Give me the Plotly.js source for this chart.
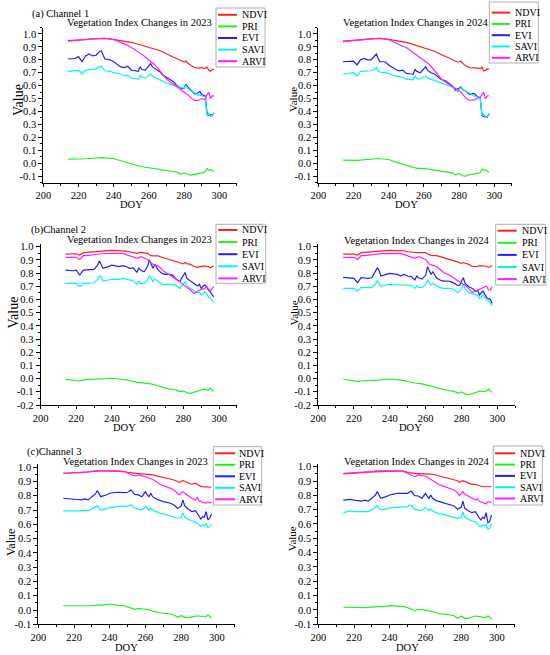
<!DOCTYPE html>
<html><head><meta charset="utf-8">
<script src="https://cdn.plot.ly/plotly-3.0.1.min.js"></script>
<style>html,body{margin:0;padding:0;background:#fff}#chart{width:550px;height:655px}</style>
</head><body><div id="chart"></div>
<script>
// ---------------- DATA ----------------
const DOY = [214,218,220,222,224,226,228,230,232,233,234,235,238,240,244,246,248,250,252,254,255,256,258,260,261,262,263,264,266,268,270,272,274,276,278,279,280,281,282,284,286,288,289,290,291,292,293,294,295,296,297];
const SERIES_NAMES = ['NDVI','PRI','EVI','SAVI','ARVI'];
const SERIES_COLORS = ['#ff2020','#20f020','#2020ff','#00f4f4','#ff20ff'];
const X_TICKS = [200,220,240,260,280,300];
const Y_TICKS_CH1 = [-0.1,0.0,0.1,0.2,0.3,0.4,0.5,0.6,0.7,0.8,0.9,1.0];
const Y_TICKS_CH2 = [-0.2,-0.1,0.0,0.1,0.2,0.3,0.4,0.5,0.6,0.7,0.8,0.9,1.0];
const Y_TICKS_CH3 = [-0.1,0.0,0.1,0.2,0.3,0.4,0.5,0.6,0.7,0.8,0.9,1.0];

// Channel 1, 2023
const CH1_2023_NDVI = [.948,.950,.952,.955,.957,.960,.962,.963,.965,.965,.966,.965,.962,.958,.950,.946,.942,.935,.928,.920,.917,.914,.907,.900,.896,.892,.888,.883,.872,.860,.845,.833,.820,.808,.795,.785,.782,.790,.775,.755,.740,.735,.738,.740,.735,.732,.745,.720,.712,.725,.725];
const CH1_2023_PRI = [.031,.030,.030,.032,.034,.036,.038,.040,.043,.045,.043,.041,.038,.036,.018,.010,.003,-.005,-.015,-.022,-.025,-.028,-.032,-.036,-.035,-.038,-.040,-.040,-.048,-.054,-.057,-.060,-.065,-.072,-.085,-.080,-.075,-.080,-.088,-.093,-.085,-.080,-.078,-.075,-.072,-.067,-.041,-.054,-.050,-.060,-.067];
const CH1_2023_EVI = [.806,.810,.825,.785,.830,.845,.830,.835,.865,.870,.835,.806,.800,.785,.745,.740,.750,.720,.715,.710,.745,.725,.720,.750,.770,.745,.735,.725,.710,.680,.665,.650,.630,.600,.580,.575,.580,.610,.590,.565,.535,.545,.555,.530,.525,.520,.390,.370,.375,.370,.390];
const CH1_2023_SAVI = [.708,.715,.720,.690,.720,.722,.725,.730,.745,.750,.730,.715,.710,.700,.690,.675,.680,.660,.655,.650,.680,.665,.660,.680,.690,.675,.668,.660,.650,.635,.620,.612,.605,.598,.590,.585,.580,.600,.580,.560,.540,.525,.527,.520,.517,.515,.365,.385,.360,.370,.390];
const CH1_2023_ARVI = [.945,.948,.950,.952,.955,.958,.962,.965,.968,.970,.970,.968,.960,.955,.935,.925,.912,.895,.878,.860,.850,.842,.820,.800,.790,.778,.765,.752,.720,.680,.650,.630,.610,.590,.570,.560,.555,.545,.530,.505,.485,.485,.490,.500,.495,.490,.530,.550,.500,.520,.520];

// Channel 1, 2024
const CH1_2024_NDVI = [.945,.948,.950,.953,.955,.958,.960,.962,.964,.965,.965,.965,.962,.958,.950,.946,.941,.935,.927,.918,.914,.910,.903,.895,.891,.887,.882,.877,.866,.853,.840,.828,.815,.803,.790,.783,.785,.790,.772,.752,.740,.738,.740,.740,.735,.730,.742,.715,.718,.730,.728];
const CH1_2024_PRI = [.023,.021,.020,.022,.024,.028,.029,.030,.035,.038,.036,.034,.030,.028,.008,.000,-.010,-.020,-.028,-.034,-.037,-.040,-.040,-.040,-.042,-.045,-.048,-.050,-.056,-.062,-.065,-.067,-.070,-.075,-.093,-.087,-.080,-.090,-.098,-.100,-.088,-.085,-.083,-.080,-.078,-.075,-.046,-.054,-.052,-.062,-.072];
const CH1_2024_EVI = [.785,.785,.790,.760,.800,.810,.800,.800,.825,.845,.810,.785,.785,.760,.725,.715,.720,.695,.692,.690,.725,.710,.700,.735,.745,.720,.710,.700,.690,.665,.645,.640,.620,.600,.565,.570,.580,.590,.570,.555,.530,.540,.535,.520,.512,.505,.370,.360,.362,.355,.385];
const CH1_2024_SAVI = [.690,.695,.700,.675,.710,.712,.715,.715,.725,.740,.715,.705,.700,.695,.675,.668,.665,.650,.647,.645,.670,.655,.650,.665,.675,.660,.655,.650,.640,.625,.615,.608,.600,.590,.580,.555,.575,.585,.570,.555,.535,.520,.518,.515,.508,.500,.370,.380,.355,.360,.385];
const CH1_2024_ARVI = [.940,.945,.948,.950,.953,.956,.960,.963,.967,.968,.970,.968,.960,.955,.930,.915,.905,.895,.875,.860,.850,.840,.820,.800,.790,.778,.765,.750,.715,.680,.650,.630,.612,.598,.580,.570,.560,.550,.535,.500,.485,.488,.492,.500,.505,.510,.530,.550,.500,.520,.520];

// Channel 2, 2023
const CH2_2023_NDVI = [.944,.946,.947,.937,.955,.957,.960,.962,.964,.966,.967,.968,.970,.972,.971,.970,.966,.962,.956,.950,.953,.957,.954,.950,.940,.932,.931,.930,.930,.920,.912,.904,.896,.888,.880,.875,.870,.880,.872,.866,.850,.843,.848,.853,.853,.853,.852,.850,.840,.845,.856];
const CH2_2023_PRI = [-.005,-.010,-.010,-.018,-.010,-.005,-.006,-.005,-.004,-.003,-.003,-.003,-.002,.003,-.003,-.005,-.010,-.016,-.023,-.027,-.030,-.030,-.032,-.035,-.038,-.040,-.043,-.048,-.055,-.065,-.072,-.078,-.082,-.086,-.098,-.095,-.093,-.100,-.106,-.111,-.104,-.095,-.090,-.086,-.082,-.078,-.085,-.086,-.073,-.085,-.098];
const CH2_2023_EVI = [.823,.818,.823,.785,.823,.823,.825,.828,.860,.891,.866,.836,.849,.860,.850,.856,.850,.836,.840,.805,.840,.823,.810,.850,.900,.874,.836,.866,.823,.798,.790,.790,.785,.755,.735,.760,.785,.805,.760,.740,.722,.702,.715,.684,.700,.710,.697,.672,.660,.641,.620];
const CH2_2023_SAVI = [.722,.722,.722,.697,.722,.724,.727,.727,.753,.778,.765,.740,.748,.753,.753,.760,.755,.748,.740,.715,.740,.722,.722,.748,.778,.760,.735,.755,.735,.717,.715,.714,.715,.705,.684,.700,.715,.735,.705,.684,.664,.652,.655,.634,.648,.659,.646,.620,.610,.596,.578];
const CH2_2023_ARVI = [.920,.920,.920,.904,.932,.933,.935,.937,.940,.945,.947,.948,.950,.950,.950,.950,.940,.930,.920,.912,.918,.924,.915,.904,.888,.874,.868,.860,.854,.828,.805,.790,.773,.755,.735,.722,.710,.700,.690,.672,.646,.664,.668,.672,.678,.684,.697,.680,.664,.680,.697];

// Channel 2, 2024
const CH2_2024_NDVI = [.944,.944,.944,.937,.955,.957,.960,.962,.964,.966,.967,.968,.970,.972,.972,.972,.968,.962,.958,.955,.955,.956,.956,.955,.945,.937,.935,.933,.932,.925,.917,.910,.904,.895,.886,.880,.874,.880,.875,.866,.850,.848,.850,.856,.855,.853,.853,.852,.843,.848,.861];
const CH2_2024_PRI = [-.003,-.012,-.015,-.023,-.018,-.015,-.015,-.015,-.013,-.012,-.011,-.010,-.008,-.003,-.008,-.010,-.015,-.022,-.030,-.033,-.035,-.035,-.040,-.048,-.050,-.052,-.055,-.060,-.068,-.078,-.082,-.086,-.092,-.098,-.111,-.105,-.100,-.108,-.116,-.124,-.111,-.104,-.100,-.093,-.095,-.098,-.095,-.093,-.078,-.090,-.106];
const CH2_2024_EVI = [.768,.760,.760,.727,.765,.763,.760,.765,.810,.840,.823,.778,.790,.798,.790,.780,.790,.778,.773,.748,.778,.765,.755,.785,.848,.815,.790,.810,.765,.748,.740,.740,.735,.722,.705,.710,.735,.765,.722,.697,.684,.659,.672,.634,.650,.664,.639,.614,.605,.601,.570];
const CH2_2024_SAVI = [.684,.684,.684,.664,.690,.690,.690,.690,.715,.742,.722,.702,.710,.717,.710,.712,.710,.710,.705,.684,.705,.692,.690,.715,.747,.727,.710,.722,.705,.690,.684,.684,.684,.672,.652,.665,.684,.715,.680,.654,.646,.634,.630,.609,.620,.634,.614,.596,.590,.576,.553];
const CH2_2024_ARVI = [.920,.920,.920,.904,.932,.933,.935,.937,.940,.944,.946,.948,.950,.950,.950,.950,.940,.930,.920,.912,.918,.924,.915,.904,.885,.869,.862,.856,.850,.828,.805,.792,.780,.760,.740,.730,.722,.715,.710,.684,.654,.664,.670,.680,.685,.690,.695,.702,.672,.672,.697];

// Channel 3, 2023
const CH3_2023_NDVI = [.958,.958,.958,.960,.962,.965,.968,.971,.974,.974,.974,.974,.974,.974,.974,.973,.970,.965,.960,.958,.957,.956,.955,.953,.952,.950,.948,.946,.940,.935,.930,.923,.917,.911,.900,.893,.900,.907,.900,.888,.881,.888,.880,.869,.866,.864,.864,.864,.862,.864,.860];
const CH3_2023_PRI = [.030,.029,.028,.028,.028,.028,.029,.030,.032,.034,.035,.035,.038,.042,.035,.033,.030,.022,.012,.005,.008,.012,.008,.007,.005,.002,-.002,-.007,-.013,-.019,-.021,-.023,-.028,-.035,-.051,-.046,-.040,-.043,-.051,-.053,-.047,-.040,-.041,-.042,-.045,-.047,-.047,-.047,-.035,-.045,-.058];
const CH3_2023_EVI = [.783,.775,.776,.774,.771,.778,.771,.794,.813,.836,.813,.794,.806,.818,.825,.823,.822,.825,.841,.810,.808,.806,.794,.829,.806,.794,.818,.794,.778,.766,.759,.754,.748,.736,.713,.720,.729,.771,.729,.706,.690,.696,.680,.659,.636,.654,.650,.690,.631,.643,.670];
const CH3_2023_SAVI = [.694,.692,.694,.692,.694,.700,.694,.708,.720,.731,.713,.700,.708,.717,.724,.724,.724,.729,.736,.713,.710,.706,.700,.724,.708,.700,.713,.700,.689,.678,.673,.667,.661,.650,.643,.646,.650,.682,.650,.636,.626,.619,.610,.596,.584,.596,.589,.607,.577,.584,.600];
const CH3_2023_ARVI = [.958,.960,.963,.963,.964,.965,.968,.972,.977,.976,.975,.974,.974,.974,.974,.974,.970,.958,.948,.939,.942,.946,.940,.935,.930,.923,.920,.916,.900,.881,.872,.864,.852,.841,.822,.806,.820,.829,.818,.800,.783,.771,.787,.766,.760,.752,.750,.748,.759,.752,.752];

// Channel 3, 2024
const CH3_2024_NDVI = [.949,.951,.953,.955,.957,.960,.962,.963,.965,.966,.967,.968,.969,.970,.970,.970,.967,.960,.956,.953,.953,.953,.953,.953,.951,.950,.948,.947,.941,.935,.929,.923,.918,.912,.902,.891,.897,.902,.897,.888,.877,.877,.872,.865,.862,.860,.860,.860,.861,.865,.860];
const CH3_2024_PRI = [.019,.017,.016,.016,.016,.016,.018,.019,.021,.022,.023,.024,.027,.030,.026,.025,.024,.016,.007,-.005,.000,.005,.002,.000,-.002,-.005,-.008,-.012,-.020,-.028,-.029,-.030,-.035,-.040,-.058,-.050,-.042,-.048,-.058,-.058,-.051,-.042,-.044,-.047,-.050,-.051,-.051,-.051,-.040,-.050,-.065];
const CH3_2024_EVI = [.767,.772,.767,.765,.760,.767,.760,.779,.802,.826,.802,.779,.791,.802,.814,.814,.814,.814,.830,.798,.797,.795,.779,.814,.795,.779,.802,.779,.763,.756,.749,.741,.733,.726,.702,.710,.716,.760,.709,.693,.679,.686,.670,.647,.628,.647,.640,.679,.609,.616,.663];
const CH3_2024_SAVI = [.679,.691,.686,.686,.686,.691,.686,.698,.716,.728,.709,.698,.705,.714,.716,.716,.716,.721,.733,.702,.700,.698,.693,.716,.705,.693,.705,.691,.679,.670,.667,.661,.656,.647,.640,.643,.647,.686,.647,.633,.621,.616,.605,.586,.581,.593,.586,.598,.565,.570,.605];
const CH3_2024_ARVI = [.953,.955,.958,.958,.959,.960,.963,.966,.970,.970,.971,.971,.972,.972,.971,.970,.965,.953,.940,.930,.936,.942,.938,.935,.927,.919,.913,.907,.888,.872,.864,.856,.847,.837,.819,.798,.810,.826,.809,.795,.779,.767,.779,.760,.755,.749,.745,.740,.756,.752,.749];

// ---------------- LAYOUT CONFIG (pixels) ----------------
const W = 550, H = 655;
const FONT = 'Liberation Serif, Times New Roman, serif';
const PANELS = [
  {series:[CH1_2023_NDVI,CH1_2023_PRI,CH1_2023_EVI,CH1_2023_SAVI,CH1_2023_ARVI], yTicks:Y_TICKS_CH1, yRange:[-0.15,1.05],
   box:[43.3,27.5,236.9,182.5], title:'Vegetation Index Changes in 2023', titlePos:[139.5,22.7], label:'(a) Channel 1', labelPos:[30,14],
   valuePos:[18,100], valueSize:14, doyPos:[131,204], leg:{box:[216,8,265,67], lx:[218,237], tx:240, y0:14.8, dy:11.6}},
  {series:[CH1_2024_NDVI,CH1_2024_PRI,CH1_2024_EVI,CH1_2024_SAVI,CH1_2024_ARVI], yTicks:Y_TICKS_CH1, yRange:[-0.15,1.05],
   box:[318.3,27.5,511.9,182.5], title:'Vegetation Index Changes in 2024', titlePos:[415,22.7], label:null,
   valuePos:[293,100], valueSize:11, doyPos:[406,204], leg:{box:[489.3,2,538.3,63], lx:[491.7,510], tx:513.3, y0:12.6, dy:11.3}},
  {series:[CH2_2023_NDVI,CH2_2023_PRI,CH2_2023_EVI,CH2_2023_SAVI,CH2_2023_ARVI], yTicks:Y_TICKS_CH2, yRange:[-0.2,1.02],
   box:[40.5,244.1,236.9,405], title:'Vegetation Index Changes in 2023', titlePos:[139,240], label:'(b)Channel 2', labelPos:[29.3,230],
   valuePos:[13,312.5], valueSize:14, doyPos:[124,428], leg:{box:[216,224.3,265.7,283.3], lx:[218.3,237.3], tx:240, y0:230, dy:12.1}},
  {series:[CH2_2024_NDVI,CH2_2024_PRI,CH2_2024_EVI,CH2_2024_SAVI,CH2_2024_ARVI], yTicks:Y_TICKS_CH2, yRange:[-0.2,1.02],
   box:[318,244.1,515.4,405], title:'Vegetation Index Changes in 2024', titlePos:[416.3,240.7], label:null,
   valuePos:[294,313.5], valueSize:11, doyPos:[410.5,428], leg:{box:[495.7,224.3,545.7,285], lx:[497.7,516.7], tx:520, y0:230.7, dy:12.1}},
  {series:[CH3_2023_NDVI,CH3_2023_PRI,CH3_2023_EVI,CH3_2023_SAVI,CH3_2023_ARVI], yTicks:Y_TICKS_CH3, yRange:[-0.1,1.02],
   box:[38.3,464.4,234.7,624.3], title:'Vegetation Index Changes in 2023', titlePos:[135.5,461.7], label:'(c)Channel 3', labelPos:[25,451.7],
   valuePos:[11,543], valueSize:12, doyPos:[126.2,647.5], leg:{box:[213.3,446.7,261.7,505], lx:[215,235], tx:237.3, y0:453.3, dy:11.5}},
  {series:[CH3_2024_NDVI,CH3_2024_PRI,CH3_2024_EVI,CH3_2024_SAVI,CH3_2024_ARVI], yTicks:Y_TICKS_CH3, yRange:[-0.1,1.02],
   box:[318.3,463.8,514.7,624.3], title:'Vegetation Index Changes in 2024', titlePos:[416.3,461.7], label:null,
   valuePos:[292.3,539], valueSize:11, doyPos:[407.5,647.5], leg:{box:[493.3,446,542.3,505], lx:[495,515], tx:517.7, y0:453.3, dy:11.3}}
];

const fx = v => v / W;
const fy = v => 1 - v / H;

const traces = [];
const layout = {
  width: W, height: H, autosize: false,
  margin: {l:0, r:0, t:0, b:0, pad:0},
  paper_bgcolor: '#fff', plot_bgcolor: 'rgba(0,0,0,0)',
  showlegend: false,
  font: {family: FONT, color: '#000'},
  annotations: [], shapes: []
};

function axisBase() {
  return {
    showline: true, linecolor: '#000', linewidth: 1,
    ticks: 'outside', ticklen: 4, tickwidth: 1, tickcolor: '#000',
    showgrid: false, zeroline: false, fixedrange: true,
    tickfont: {family: FONT, size: 10.5, color: '#000'}
  };
}

PANELS.forEach((p, i) => {
  const s = i === 0 ? '' : String(i + 1);
  const [x0, y0, x1, y1] = p.box;
  layout['xaxis' + s] = Object.assign(axisBase(), {
    domain: [fx(x0), fx(x1)], range: [200, 310], anchor: 'y' + s, ticklen: 3,
    tickmode: 'array', tickvals: X_TICKS, ticktext: X_TICKS.map(String),
    minor: {tickmode: 'linear', tick0: 200, dtick: 10, ticks: 'outside', ticklen: 2, tickcolor: '#000'}
  });
  layout['yaxis' + s] = Object.assign(axisBase(), {
    domain: [fy(y1), fy(y0)], range: p.yRange, anchor: 'x' + s,
    tickmode: 'array', tickvals: p.yTicks, ticktext: p.yTicks.map(v => v.toFixed(1)),
    minor: {tickmode: 'linear', tick0: 0, dtick: 0.05, ticks: 'outside', ticklen: 2, tickcolor: '#000'}
  });
  p.series.forEach((vals, k) => {
    traces.push({
      type: 'scatter', mode: 'lines', x: DOY, y: vals, name: SERIES_NAMES[k],
      xaxis: 'x' + s, yaxis: 'y' + s,
      line: {color: SERIES_COLORS[k], width: 1.2}, hoverinfo: 'skip'
    });
  });
  const A = layout.annotations;
  A.push({xref:'paper', yref:'paper', x: fx(p.titlePos[0]), y: fy(p.titlePos[1]), xanchor:'center', yanchor:'middle',
          text: p.title, showarrow:false, font:{family:FONT, size:10.5, color:'#000'}});
  if (p.label) A.push({xref:'paper', yref:'paper', x: fx(p.labelPos[0]), y: fy(p.labelPos[1]), xanchor:'left', yanchor:'middle',
          text: p.label, showarrow:false, font:{family:FONT, size:10.5, color:'#000'}});
  A.push({xref:'paper', yref:'paper', x: fx(p.valuePos[0]), y: fy(p.valuePos[1]), xanchor:'center', yanchor:'middle',
          text: 'Value', textangle: -90, showarrow:false, font:{family:FONT, size:p.valueSize, color:'#000'}});
  A.push({xref:'paper', yref:'paper', x: fx(p.doyPos[0]), y: fy(p.doyPos[1]), xanchor:'center', yanchor:'middle',
          text: 'DOY', showarrow:false, font:{family:FONT, size:10.5, color:'#000'}});
  // compact legend drawn as shapes + text
  const L = p.leg;
  layout.shapes.push({type:'rect', xref:'paper', yref:'paper', x0: fx(L.box[0]), x1: fx(L.box[2]), y0: fy(L.box[3]), y1: fy(L.box[1]),
          line:{color:'#b0b0b0', width:1}, fillcolor:'#fff', layer:'above'});
  SERIES_NAMES.forEach((nm, k) => {
    const yy = L.y0 + k * L.dy;
    layout.shapes.push({type:'line', xref:'paper', yref:'paper', x0: fx(L.lx[0]), x1: fx(L.lx[1]), y0: fy(yy), y1: fy(yy),
            line:{color: SERIES_COLORS[k], width: 2}, layer:'above'});
    A.push({xref:'paper', yref:'paper', x: fx(L.tx), y: fy(yy), xanchor:'left', yanchor:'middle',
            text: nm, showarrow:false, font:{family:FONT, size:10, color:'#000'}});
  });
});

Plotly.newPlot('chart', traces, layout, {displayModeBar: false, staticPlot: true});
</script>
</body></html>
